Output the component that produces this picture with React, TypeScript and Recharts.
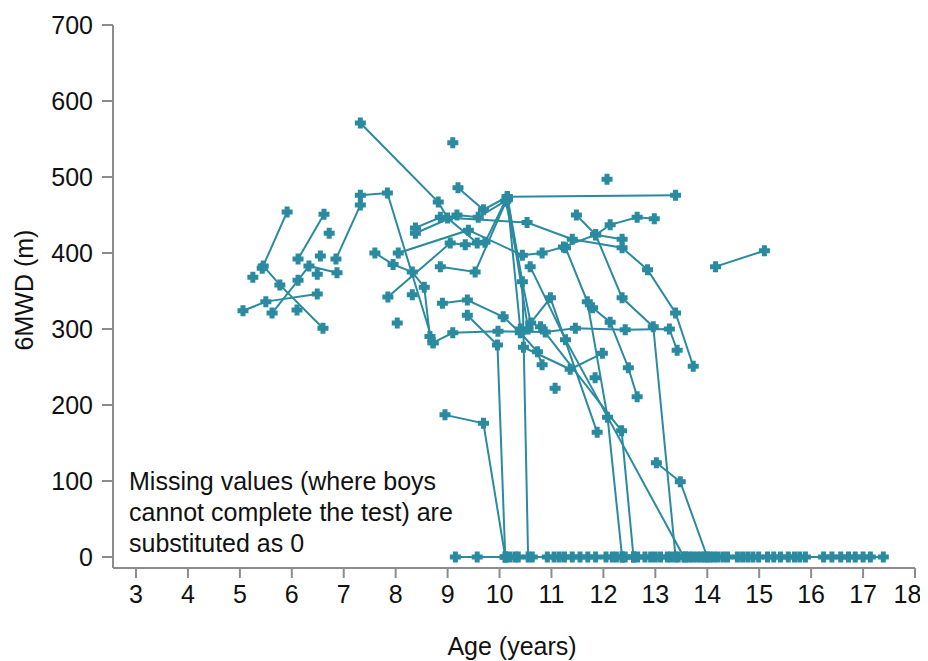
import React from "react";
import { LineChart, Line, XAxis, YAxis } from "recharts";

const TEAL = "#2a8aa0";
const AXIS = "#8c8c8c";
const FONT = "'Liberation Sans', Arial, sans-serif";

// one array per boy: [age (years), 6MWD (m)]
const boy01: [number, number][] = [[5.43, 380], [5.91, 454]];
const boy02: [number, number][] = [[5.25, 368]];
const boy03: [number, number][] = [[5.45, 383], [5.77, 358], [6.6, 301]];
const boy04: [number, number][] = [[5.06, 324], [5.5, 336], [6.49, 346]];
const boy05: [number, number][] = [[5.62, 321], [6.12, 364], [6.33, 383], [6.87, 374]];
const boy06: [number, number][] = [[6.12, 392], [6.62, 451]];
const boy07: [number, number][] = [[6.1, 325]];
const boy08: [number, number][] = [[6.49, 372]];
const boy09: [number, number][] = [[6.55, 396]];
const boy10: [number, number][] = [[6.72, 426]];
const boy11: [number, number][] = [[6.85, 392], [7.32, 463]];
const boy12: [number, number][] = [[7.32, 476], [7.84, 479], [8.72, 282]];
const boy13: [number, number][] = [[7.32, 571], [8.82, 467], [9.0, 446], [9.57, 413]];
const boy14: [number, number][] = [[7.6, 400], [7.95, 385], [8.32, 375], [8.55, 355], [8.66, 290]];
const boy15: [number, number][] = [[7.85, 342], [9.05, 413], [9.34, 411], [9.72, 414], [10.15, 474], [10.55, 300]];
const boy16: [number, number][] = [[8.05, 400], [9.4, 430], [10.44, 397], [10.82, 400], [11.23, 408], [11.85, 424], [12.36, 418]];
const boy17: [number, number][] = [[11.48, 450], [11.85, 424], [12.13, 437], [12.65, 447], [12.98, 445]];
const boy18: [number, number][] = [[9.2, 486], [9.69, 457], [10.15, 474], [13.39, 476]];
const boy19: [number, number][] = [[8.38, 433], [8.86, 447], [10.53, 440], [11.4, 418], [12.36, 407], [12.85, 378], [13.39, 321], [13.73, 251]];
const boy20: [number, number][] = [[8.38, 426], [9.18, 450], [9.59, 447], [10.15, 470]];
const boy21: [number, number][] = [[8.86, 382], [9.53, 375], [10.15, 472], [10.4, 300]];
const boy22: [number, number][] = [[8.72, 282], [9.1, 295], [9.97, 297], [10.88, 296], [11.46, 301], [12.42, 299], [13.27, 300], [13.42, 272]];
const boy23: [number, number][] = [[8.9, 334], [9.38, 338], [10.07, 316], [10.4, 295], [10.73, 270], [10.82, 253]];
const boy24: [number, number][] = [[9.38, 318], [9.96, 279], [10.11, 0]];
const boy25: [number, number][] = [[8.95, 187], [9.69, 176], [10.11, 0]];
const boy26: [number, number][] = [[10.15, 474], [10.44, 362], [10.55, 0]];
const boy27: [number, number][] = [[10.12, 468], [10.6, 308], [10.98, 341], [11.88, 164]];
const boy28: [number, number][] = [[11.27, 407], [11.69, 336], [12.08, 184], [12.36, 0]];
const boy29: [number, number][] = [[10.59, 382], [11.27, 286], [13.55, 0]];
const boy30: [number, number][] = [[11.07, 222]];
const boy31: [number, number][] = [[11.79, 328], [12.13, 309], [12.48, 249], [12.65, 211]];
const boy32: [number, number][] = [[10.46, 276], [11.36, 247], [11.98, 268]];
const boy33: [number, number][] = [[10.79, 303], [12.35, 166], [12.58, 0]];
const boy34: [number, number][] = [[11.84, 236]];
const boy35: [number, number][] = [[12.07, 497]];
const boy36: [number, number][] = [[11.85, 424], [12.36, 341], [12.96, 303], [13.39, 0]];
const boy37: [number, number][] = [[13.02, 124], [13.48, 99], [14.0, 0]];
const boy38: [number, number][] = [[14.16, 382], [15.1, 403]];
const boy39: [number, number][] = [[9.1, 545]];
const boy40: [number, number][] = [[8.03, 308]];
const boy41: [number, number][] = [[8.32, 345]];

// visits where the test could not be completed (recorded as 0)
const zeroAges: number[] = [
  9.15, 9.57, 10.11, 10.2, 10.3, 10.36, 10.63, 10.92, 11.05, 11.15, 11.25, 11.4,
  11.55, 11.7, 11.85, 12.05, 12.17, 12.25, 12.36, 12.42, 12.58, 12.66, 12.8,
  12.91, 13.0, 13.1, 13.23, 13.3, 13.44, 13.58, 13.65, 13.72, 13.8, 13.88, 13.95,
  14.05, 14.12, 14.2, 14.3, 14.39, 14.58, 14.68, 14.78, 14.88, 14.99, 15.16,
  15.28, 15.41, 15.56, 15.68, 15.78, 15.89, 16.24, 16.4, 16.57, 16.72, 16.85,
  17.0, 17.14, 17.39,
];

const xTicks = [3, 4, 5, 6, 7, 8, 9, 10, 11, 12, 13, 14, 15, 16, 17, 18];
const yTicks = [0, 100, 200, 300, 400, 500, 600, 700];

const boys = [
  boy01, boy02, boy03, boy04, boy05, boy06, boy07, boy08, boy09, boy10,
  boy11, boy12, boy13, boy14, boy15, boy16, boy17, boy18, boy19, boy20,
  boy21, boy22, boy23, boy24, boy25, boy26, boy27, boy28, boy29, boy30,
  boy31, boy32, boy33, boy34, boy35, boy36, boy37, boy38, boy39, boy40, boy41,
];

const series = [
  ...boys.map((b) => b.map(([age, v]) => ({ age, v }))),
  zeroAges.map((age) => ({ age, v: 0 })),
];

const renderCross = (props: any) => {
  const { cx, cy, index } = props;
  if (cx == null || cy == null) return <g key={`n-${index}`} />;
  const d = `M${cx - 2.5},${cy - 5.5}h5v3h3v5h-3v3h-5v-3h-3v-5h3z`;
  return <path key={`c-${index}`} d={d} fill={TEAL} />;
};

const tickStyle = { fontSize: 25, fill: "#111", fontFamily: FONT };

export default function App() {
  return (
    <div style={{ position: "relative", width: 912, height: 653, fontFamily: FONT }}>
      <LineChart width={912} height={645} margin={{ top: 17, right: 5, bottom: 25, left: 0 }}>
        <XAxis
          type="number"
          dataKey="age"
          domain={[2.557, 18]}
          ticks={xTicks}
          allowDataOverflow
          height={60}
          tick={tickStyle}
          tickSize={10}
          tickMargin={7}
          axisLine={{ stroke: AXIS, strokeWidth: 2 }}
          tickLine={{ stroke: AXIS, strokeWidth: 2 }}
        />
        <YAxis
          type="number"
          domain={[-14.5, 700]}
          ticks={yTicks}
          allowDataOverflow
          width={105}
          tick={tickStyle}
          tickSize={11}
          tickMargin={9}
          axisLine={{ stroke: AXIS, strokeWidth: 2 }}
          tickLine={{ stroke: AXIS, strokeWidth: 2 }}
        />
        {series.map((data, i) => (
          <Line
            key={i}
            data={data}
            dataKey="v"
            type="linear"
            stroke={TEAL}
            strokeWidth={2}
            dot={renderCross}
            activeDot={false}
            legendType="none"
            isAnimationActive={false}
          />
        ))}
      </LineChart>
      <div
        style={{
          position: "absolute",
          left: 16,
          top: 282,
          transform: "translate(-50%, -50%) rotate(-90deg)",
          fontSize: 25,
          color: "#111",
          whiteSpace: "nowrap",
        }}
      >
        6MWD (m)
      </div>
      <div
        style={{
          position: "absolute",
          left: 504,
          top: 626,
          transform: "translateX(-50%)",
          fontSize: 25,
          lineHeight: "25px",
          color: "#111",
          whiteSpace: "nowrap",
        }}
      >
        Age (years)
      </div>
      <div
        style={{
          position: "absolute",
          left: 121,
          top: 458,
          fontSize: 25,
          lineHeight: "31px",
          color: "#111",
          whiteSpace: "nowrap",
        }}
      >
        Missing values (where boys
        <br />
        cannot complete the test) are
        <br />
        substituted as 0
      </div>
    </div>
  );
}
